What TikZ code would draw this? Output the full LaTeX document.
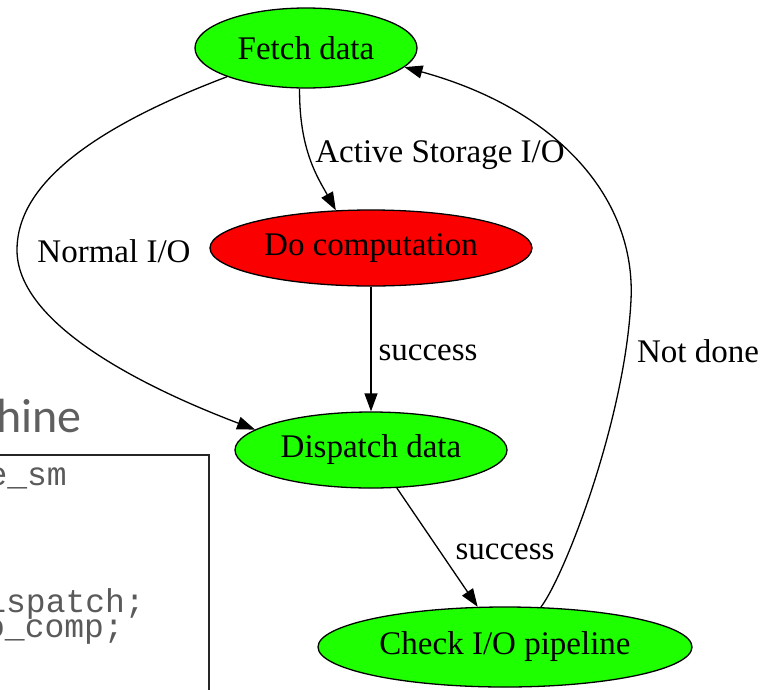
\documentclass[tikz,border=0pt]{standalone}
\usepackage{fontspec}
\setmainfont{Liberation Serif}
\setmonofont{Liberation Mono}
\newfontfamily\slidefont{Carlito}
\usetikzlibrary{arrows.meta,shapes.geometric}
\definecolor{stategreen}{RGB}{30,255,0}
\definecolor{statered}{RGB}{250,0,0}
\definecolor{slidegray}{RGB}{95,95,95}
\definecolor{codegray}{RGB}{90,90,90}
\begin{document}
\begin{tikzpicture}[x=1pt,y=-1pt,
  state/.style={ellipse,draw=black,line width=1.3pt,inner sep=0pt,
    font=\fontsize{33}{38}\selectfont},
  edgelabel/.style={anchor=base,inner sep=0pt,font=\fontsize{33}{38}\selectfont},
  flow/.style={line width=1.3pt,-{Triangle[length=18pt,width=13pt]}},
  codeline/.style={anchor=base east,inner sep=0pt,text=codegray,
    font=\ttfamily\fontsize{33}{35}\selectfont}]
\useasboundingbox (0,0) rectangle (771,689);
\clip (0,0) rectangle (771,689);
\fill[white] (0,0) rectangle (771,689);

% slide fragment behind the graph
\node[anchor=base east,inner sep=0pt,text=slidegray,
  font=\slidefont\fontsize{48}{52}\selectfont] (slidetitle) at (82,432) {Machine};
\draw[line width=1.8pt,black!85] (-10,455) rectangle (209,720);
\node[codeline] (codeA) at (67,485) {state\_sm};
\node[codeline] (codeB) at (145,612) {dispatch;};
\node[codeline] (codeC) at (124,637) {do\_comp;};

% states
\node[state,fill=stategreen,minimum width=222pt,minimum height=80pt] (fetch) at (306,48) {Fetch data};
\node[state,fill=statered,minimum width=322pt,minimum height=76pt] (docomp) at (371,248) {Do computation};
\node[state,fill=stategreen,minimum width=272pt,minimum height=76pt] (dispatch) at (371,450) {Dispatch data};
\node[state,fill=stategreen,minimum width=374pt,minimum height=80pt] (check) at (505,647) {Check I/O pipeline};

% bend points of the curved transitions
\coordinate (normalbend) at (17,250);
\coordinate (loopbend) at (631,300);

% transitions
\draw[flow] (fetch.261) .. controls (299,150) and (318,178) .. (docomp.133);
\draw[flow] (fetch.200) .. controls (60,140) and (17,200) .. (normalbend)
  .. controls (17,320) and (130,382) .. (dispatch.170);
\draw[flow] (docomp.south) -- (dispatch.north);
\draw[flow] (dispatch) -- (check);
\draw[flow] (check.48) .. controls (565,575) and (625,420) .. (loopbend)
  .. controls (636,200) and (560,110) .. (fetch.349);

% transition labels
\node[edgelabel] (lblactive) at (440,162) {Active Storage I/O};
\node[edgelabel] (lblnormal) at (114,262) {Normal I/O};
\node[edgelabel] (lblsuccA) at (428,360) {success};
\node[edgelabel] (lblsuccB) at (505,559) {success};
\node[edgelabel] (lblnotdone) at (698,362) {Not done};
\end{tikzpicture}
\end{document}
